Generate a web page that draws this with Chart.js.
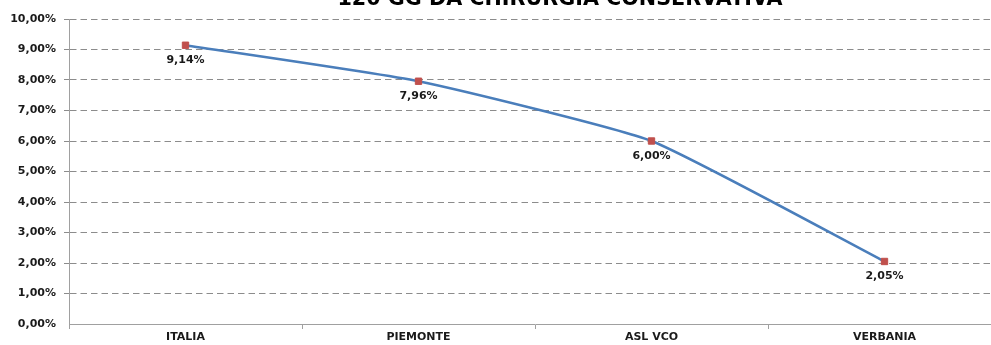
<!DOCTYPE html>
<html>
<head>
<meta charset="utf-8">
<script src="https://cdn.jsdelivr.net/npm/chart.js@4"></script>
<style>
  html, body { margin: 0; padding: 0; background: #fff; overflow: hidden; }
  #wrap { position: absolute; left: 0; top: 0; width: 1010px; height: 345px; }
</style>
</head>
<body>
<div id="wrap"><canvas id="chart"></canvas></div>
<script>
// data
const categories = ['ITALIA', 'PIEMONTE', 'ASL VCO', 'VERBANIA'];
const values = [9.14, 7.96, 6.00, 2.05];
const chartTitle = '120 GG DA CHIRURGIA CONSERVATIVA';

const FONT = '"DejaVu Sans", Verdana, sans-serif';

function pct(v) {
  return v.toFixed(2).replace('.', ',') + '%';
}

// labels under each point + title cut at the top
const labelsPlugin = {
  id: 'labelsPlugin',
  afterDatasetsDraw(chart) {
    const ctx = chart.ctx;
    const meta = chart.getDatasetMeta(0);
    ctx.save();
    ctx.font = 'bold 11px ' + FONT;
    ctx.fillStyle = '#1a1a1a';
    ctx.textAlign = 'center';
    ctx.textBaseline = 'middle';
    meta.data.forEach((pt, i) => {
      ctx.fillText(pct(values[i]), pt.x, pt.y + 15);
    });
    ctx.restore();
  },
  afterDraw(chart) {
    const ctx = chart.ctx;
    ctx.save();
    ctx.font = 'bold 100px ' + FONT;
    const w = ctx.measureText(chartTitle).width;
    const size = 100 * 445 / w;
    ctx.font = 'bold ' + size.toFixed(1) + 'px ' + FONT;
    ctx.fillStyle = '#000';
    ctx.textAlign = 'center';
    ctx.textBaseline = 'alphabetic';
    ctx.fillText(chartTitle, 560, 5);
    ctx.restore();
  }
};

new Chart(document.getElementById('chart'), {
  type: 'line',
  data: {
    labels: categories,
    datasets: [{
      data: values,
      borderColor: '#4a7ebb',
      borderWidth: 2.5,
      tension: 0.15,
      pointStyle: 'rect',
      pointRadius: 4.5,
      pointBackgroundColor: '#c0504d',
      pointBorderColor: '#c0504d',
      pointBorderWidth: 1
    }]
  },
  options: {
    responsive: true,
    maintainAspectRatio: false,
    animation: false,
    layout: { padding: { top: 19, right: 9, left: 0, bottom: 0 } },
    plugins: {
      legend: { display: false },
      tooltip: { enabled: false }
    },
    scales: {
      x: {
        offset: true,
        grid: {
          offset: true,
          drawOnChartArea: false,
          color: '#a0a0a0',
          tickLength: 5
        },
        border: { color: '#a0a0a0', width: 1 },
        ticks: {
          color: '#1a1a1a',
          font: { family: FONT, size: 11, weight: 'bold' },
          padding: 2,
          maxRotation: 0
        },
        afterFit(scale) { scale.height = 21; }
      },
      y: {
        min: 0,
        max: 10,
        ticks: {
          stepSize: 1,
          color: '#1a1a1a',
          font: { family: FONT, size: 11, weight: 'bold' },
          padding: 8,
          callback: v => pct(v)
        },
        grid: {
          color: c => (c.tick && c.tick.value === 0) ? 'rgba(0,0,0,0)' : '#8c8c8c',
          lineWidth: 1,
          tickLength: 5,
          drawTicks: true
        },
        border: { color: '#a0a0a0', width: 1, dash: [6.5, 4] },
        afterFit(scale) { scale.width = 69; }
      }
    }
  },
  plugins: [labelsPlugin]
});
</script>
</body>
</html>
